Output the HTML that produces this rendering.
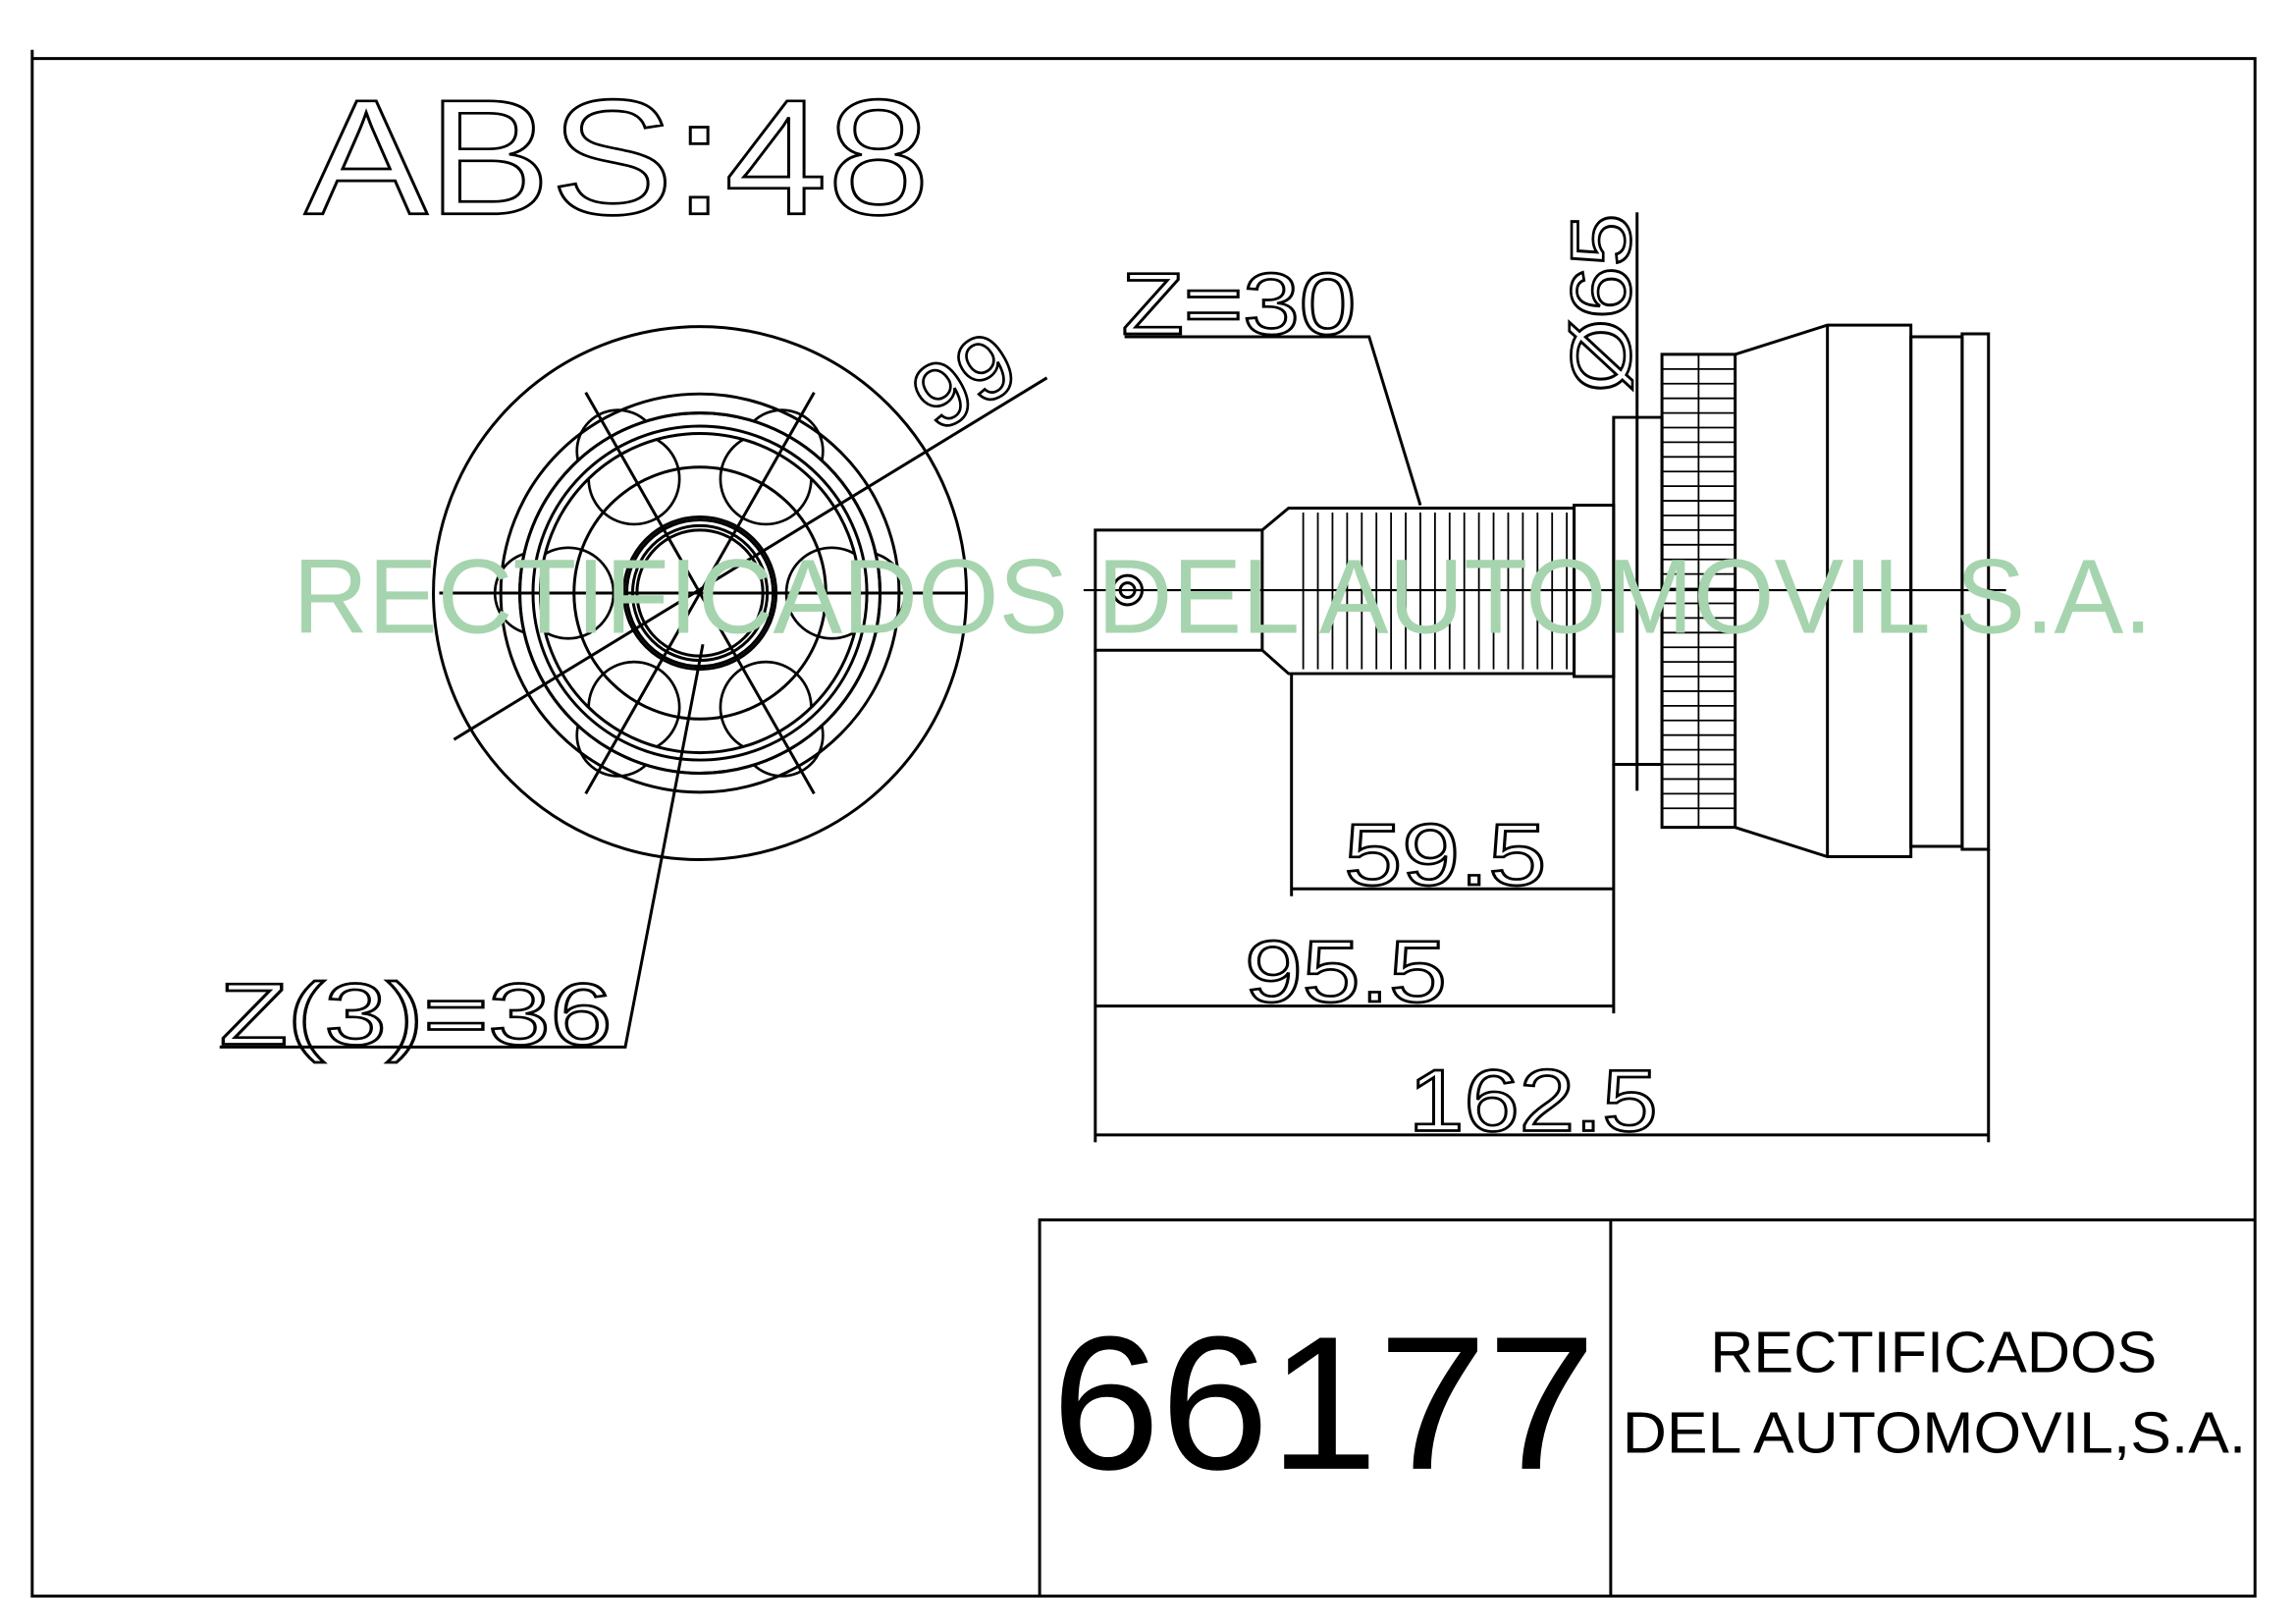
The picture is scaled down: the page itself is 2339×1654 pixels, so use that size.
<!DOCTYPE html>
<html><head><meta charset="utf-8"><style>
html,body{margin:0;padding:0;background:#fff;}
svg{display:block;}
</style></head><body>
<svg width="2339" height="1654" viewBox="0 0 1568 1109" preserveAspectRatio="none" xmlns="http://www.w3.org/2000/svg" font-family="Liberation Sans, sans-serif">
<defs>
<clipPath id="c109"><circle cx="478" cy="405" r="109"/></clipPath>
</defs>
<rect width="1568" height="1109" fill="#fff"/>
<g stroke="#000" fill="none" stroke-width="2">
<!-- frame -->
<path d="M22 34V1090H1540V40H22"/>
<path d="M710 1090V833H1540M1100 833V1090"/>
<!-- left view -->
<circle cx="478" cy="405" r="182"/>
<g stroke-width="1.8">
<circle cx="590" cy="405" r="28"/><circle cx="366" cy="405" r="28"/>
<circle cx="534" cy="308" r="28"/><circle cx="422" cy="308" r="28"/>
<circle cx="534" cy="502" r="28"/><circle cx="422" cy="502" r="28"/>
</g>
<circle cx="478" cy="405" r="123" fill="#fff"/>
<circle cx="478" cy="405" r="136"/>
<circle cx="478" cy="405" r="123"/>
<circle cx="478" cy="405" r="114"/>
<circle cx="478" cy="405" r="109"/>
<g clip-path="url(#c109)" stroke-width="1.8">
<circle cx="568" cy="405" r="31"/><circle cx="388" cy="405" r="31"/>
<circle cx="523" cy="327" r="31"/><circle cx="433" cy="327" r="31"/>
<circle cx="523" cy="483" r="31"/><circle cx="433" cy="483" r="31"/>
</g>
<circle cx="478" cy="405" r="86"/>
<circle cx="478" cy="405" r="52" fill="#fff"/>
<circle cx="478" cy="405" r="50"/>
<circle cx="478" cy="405" r="46"/>
<circle cx="478" cy="405" r="43"/>
<path d="M400 268L556 542M556 268L400 542M300 405H660"/>
<path d="M310 505L715 258"/>
<path d="M480 440L427 715H150"/>
<!-- right view -->
<path d="M740 403H1370" stroke-width="1.4"/>
<path d="M748 362H862V444H748z"/>
<circle cx="770" cy="403" r="10"/><circle cx="770" cy="403" r="5"/>
<path d="M862 362L880 347H1075V460H880L862 444"/>
<path d="M1075 345H1102V462H1075z"/>
<path d="M1102 285H1135V522H1102z"/>
<path d="M1135 242H1185V565H1135z"/>
<path d="M1185 242L1248 222H1305V585H1248L1185 565"/>
<path d="M1305 230H1340V578H1305z"/>
<path d="M1340 228H1358V580H1340z"/>
<path d="M1248 222V585"/>
<g stroke-width="1.2">
<path d="M890 350V457M900 350V457M910 350V457M920 350V457M930 350V457M940 350V457M950 350V457M960 350V457M970 350V457M980 350V457M990 350V457M1000 350V457M1010 350V457M1020 350V457M1030 350V457M1040 350V457M1050 350V457M1060 350V457M1070 350V457"/>
<path d="M1160 242V565M1135 252H1185M1135 262H1185M1135 272H1185M1135 282H1185M1135 292H1185M1135 302H1185M1135 312H1185M1135 322H1185M1135 332H1185M1135 342H1185M1135 352H1185M1135 362H1185M1135 372H1185M1135 382H1185M1135 392H1185M1135 402H1185M1135 412H1185M1135 422H1185M1135 432H1185M1135 442H1185M1135 452H1185M1135 462H1185M1135 472H1185M1135 482H1185M1135 492H1185M1135 502H1185M1135 512H1185M1135 522H1185M1135 532H1185M1135 542H1185M1135 552H1185"/>
</g>
<!-- dims -->
<path d="M882 460V612M1102 522V692M748 444V780M1358 580V780"/>
<path d="M882 607H1102M748 687H1102M748 775H1358"/>
<path d="M1118 145V540"/>
<path d="M768 230H935L970 345"/>
</g>
<!-- texts -->
<g fill="none" stroke="#000" stroke-width="1.8" font-family="Liberation Sans, sans-serif">
<text x="208" y="146" font-size="112" textLength="427" lengthAdjust="spacingAndGlyphs">ABS:48</text>
<text x="766" y="228" font-size="60" textLength="160" lengthAdjust="spacingAndGlyphs">Z=30</text>
<text x="918" y="604" font-size="60" textLength="138" lengthAdjust="spacingAndGlyphs">59.5</text>
<text x="850" y="684" font-size="60" textLength="138" lengthAdjust="spacingAndGlyphs">95.5</text>
<text x="962" y="772" font-size="60" textLength="170" lengthAdjust="spacingAndGlyphs">162.5</text>
<text x="150" y="713" font-size="60" textLength="268" lengthAdjust="spacingAndGlyphs">Z(3)=36</text>
<text transform="translate(640,296) rotate(-31)" font-size="62">99</text>
<text transform="translate(1113,268) rotate(-90)" font-size="58" textLength="122" lengthAdjust="spacingAndGlyphs">Ø65</text>
</g>
<text x="200" y="432" font-size="72" fill="#a6d4ae" textLength="1270" lengthAdjust="spacingAndGlyphs">RECTIFICADOS DEL AUTOMOVIL S.A.</text>
<text x="718" y="1003" font-size="130" fill="#000" textLength="372" lengthAdjust="spacingAndGlyphs">66177</text>
<text x="1168" y="937" font-size="40" fill="#000" textLength="305" lengthAdjust="spacingAndGlyphs">RECTIFICADOS</text>
<text x="1108" y="992" font-size="40" fill="#000" textLength="426" lengthAdjust="spacingAndGlyphs">DEL AUTOMOVIL,S.A.</text>
</svg>
</body></html>
